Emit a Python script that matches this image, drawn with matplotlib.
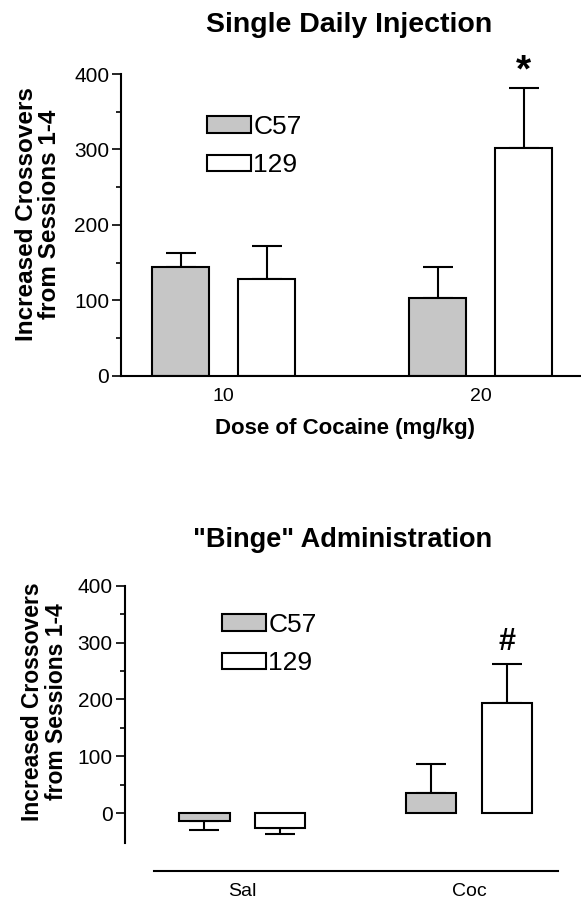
"""Locomotor sensitisation bar charts: single daily injection vs binge."""

import matplotlib
matplotlib.use("Agg")
import matplotlib.pyplot as plt
from matplotlib.patches import Patch

plt.rcParams["font.family"] = ["Liberation Sans", "DejaVu Sans"]

# --- data ---
strains = ["C57", "129"]
strain_colors = ["#c6c6c6", "#ffffff"]

single_doses = ["10", "20"]
single_c57 = [145, 103]
single_c57_sem = [18, 42]
single_129 = [128, 302]
single_129_sem = [44, 80]

binge_groups = ["Sal", "Coc"]
binge_c57 = [-13, 35]
binge_c57_sem = [16, 52]
binge_129 = [-26, 193]
binge_129_sem = [11, 70]

y_major = [0, 100, 200, 300, 400]
y_minor = [50, 150, 250, 350]

W, H = 581, 901
BAR_W = 0.222
OFFSET = 0.167
EDGE = 1.5


def px_x(x):
    return x / W


def px_y(y):
    return 1 - y / H


def draw_bars(ax, values, sems, offsets):
    for strain_vals, strain_sems, color, off in zip(values, sems, strain_colors, offsets):
        pos = [i + off for i in range(len(strain_vals))]
        ax.bar(pos, strain_vals, width=BAR_W, color=color, edgecolor="black",
               linewidth=EDGE, zorder=2)
        lower = [s if v < 0 else 0 for v, s in zip(strain_vals, strain_sems)]
        upper = [s if v >= 0 else 0 for v, s in zip(strain_vals, strain_sems)]
        ax.errorbar(pos, strain_vals, yerr=[lower, upper], fmt="none", ecolor="black",
                    elinewidth=EDGE, capsize=11, capthick=EDGE, zorder=1)


def style_y(ax):
    ax.set_yticks(y_major)
    ax.set_yticks(y_minor, minor=True)
    ax.tick_params(axis="y", which="major", length=6.5, width=1.2, labelsize=15, pad=2)
    ax.tick_params(axis="y", which="minor", length=3.5, width=1.2)
    ax.tick_params(axis="x", length=0, labelsize=14, pad=8.5)
    for side in ("top", "right"):
        ax.spines[side].set_visible(False)
    for side in ("left", "bottom"):
        ax.spines[side].set_linewidth(1.5)


def add_legend(ax, anchor):
    handles = [Patch(facecolor=c, edgecolor="black", linewidth=EDGE, label=s)
               for s, c in zip(strains, strain_colors)]
    ax.legend(handles=handles, loc="upper left", bbox_to_anchor=anchor, frameon=False,
              fontsize=19, handlelength=1.65, handleheight=0.6, handletextpad=0.1,
              labelspacing=0.55, borderpad=0, borderaxespad=0)


fig = plt.figure(figsize=(W / 100, H / 100), dpi=100)

# --- top panel: single daily injection ---
ax1 = fig.add_axes([px_x(121), px_y(376), px_x(581 - 121), (376 - 74) / H])
draw_bars(ax1, [single_c57, single_129], [single_c57_sem, single_129_sem], [-OFFSET, OFFSET])
ax1.set_xlim(-0.40, 1.39)
ax1.set_ylim(0, 400)
ax1.set_xticks(range(len(single_doses)), single_doses)
style_y(ax1)
add_legend(ax1, (0.187, 0.865))
ax1.text(1 + OFFSET, single_129[1] + single_129_sem[1] - 2, "*", ha="center", va="bottom",
         fontsize=28, fontweight="bold", clip_on=False)

fig.text(px_x(349), px_y(25), "Single Daily Injection", ha="center", va="center",
         fontsize=20.5, fontweight="bold")
fig.text(px_x(345), px_y(434), "Dose of Cocaine (mg/kg)", ha="center", va="baseline",
         fontsize=16, fontweight="bold")
fig.text(px_x(38), px_y(214), "Increased Crossovers\nfrom Sessions 1-4", ha="center",
         va="center", rotation=90, fontsize=17.5, fontweight="bold", linespacing=1.05)

# --- bottom panel: binge administration ---
ax2 = fig.add_axes([px_x(124.5), px_y(870.7), px_x(558 - 124.5), (870.7 - 585.7) / H])
draw_bars(ax2, [binge_c57, binge_129], [binge_c57_sem, binge_129_sem], [-OFFSET, OFFSET])
ax2.set_xlim(-0.52, 1.393)
ax2.set_ylim(-101, 400)
ax2.set_xticks(range(len(binge_groups)), binge_groups)
style_y(ax2)
ax2.spines["left"].set_bounds(-53, 400)
ax2.spines["bottom"].set_bounds(-0.39, 1.393)
add_legend(ax2, (0.225, 0.905))
ax2.text(1 + OFFSET, binge_129[1] + binge_129_sem[1] + 12, "#", ha="center", va="bottom",
         fontsize=22, fontweight="bold", clip_on=False)

fig.text(px_x(343), px_y(540), "\"Binge\" Administration", ha="center", va="center",
         fontsize=19.5, fontweight="bold")
fig.text(px_x(44.5), px_y(702), "Increased Crossovers\nfrom Sessions 1-4", ha="center",
         va="center", rotation=90, fontsize=16.5, fontweight="bold", linespacing=1.05)

fig.savefig("out.png", dpi=100)
